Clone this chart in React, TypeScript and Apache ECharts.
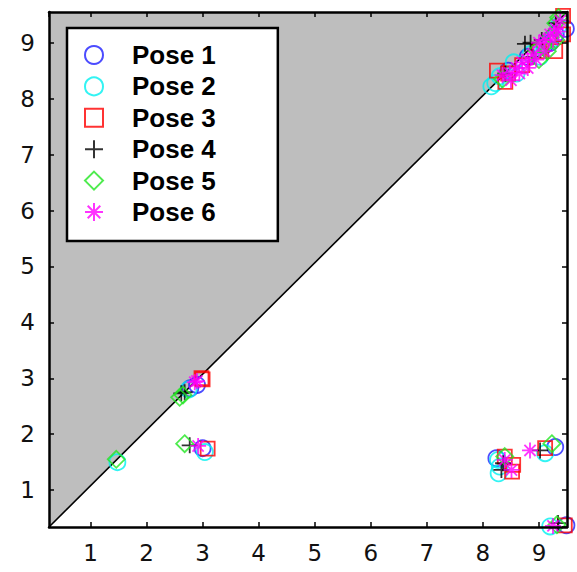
import React, { useEffect, useRef } from "react";
import * as echarts from "echarts";

const X_RANGE = [0.26, 9.5];
const Y_RANGE = [0.34, 9.55];
const diagonal = [
  [0.26, 0.34],
  [9.5, 9.55],
];

const poseNames = ["Pose 1", "Pose 2", "Pose 3", "Pose 4", "Pose 5", "Pose 6"];
const poseColors = ["#1f1fff", "#00f0f0", "#ff0000", "#000000", "#22e622", "#ff00ff"];

const pose1 = [
  [8.45, 8.5], [8.8, 8.75], [9.1, 8.95], [9.3, 9.15], [9.48, 9.25], [9.2, 9.0],
  [2.78, 2.82], [2.9, 2.88],
  [3.0, 1.75],
  [8.24, 1.57],
  [9.29, 1.77],
  [9.49, 0.37],
];
const pose2 = [
  [8.15, 8.22], [8.22, 8.28], [8.3, 8.4], [8.55, 8.65], [8.6, 8.45], [8.85, 8.8], [9.02, 8.75],
  [9.2, 9.05], [9.35, 9.3],
  [2.75, 2.8],
  [1.48, 1.5],
  [3.04, 1.68],
  [8.27, 1.54], [8.3, 1.42], [8.28, 1.3],
  [9.11, 1.66],
  [9.2, 0.35],
];
const pose3 = [
  [8.25, 8.5], [8.45, 8.45], [8.7, 8.6], [9.0, 8.85], [9.29, 8.85], [9.43, 9.15], [9.43, 9.48],
  [8.4, 8.3],
  [2.98, 3.0], [3.0, 2.98],
  [3.09, 1.74],
  [8.39, 1.6], [8.54, 1.45], [8.52, 1.33],
  [9.11, 1.75],
  [9.46, 0.37],
];
const pose4 = [
  [8.4, 8.45], [8.75, 8.98], [8.85, 9.0], [9.05, 9.05], [9.3, 9.35], [8.9, 8.75],
  [2.62, 2.73], [2.68, 2.75],
  [2.77, 1.8],
  [8.36, 1.48], [8.33, 1.36],
  [9.02, 1.71],
  [9.34, 0.41],
];
const pose5 = [
  [8.35, 8.35], [8.96, 8.86], [9.1, 8.95], [9.2, 9.1], [9.3, 9.35], [9.35, 9.45],
  [9.0, 8.7], [9.15, 8.85], [9.3, 9.05],
  [2.59, 2.66], [2.65, 2.7],
  [1.46, 1.55],
  [2.68, 1.83],
  [8.39, 1.6],
  [9.23, 1.83],
  [9.32, 0.38],
];
const pose6 = [
  [8.35, 8.42], [8.48, 8.46], [8.6, 8.55], [8.7, 8.65], [8.8, 8.7], [8.9, 8.8], [9.0, 9.0],
  [9.1, 9.05], [9.2, 9.15], [9.3, 9.25], [9.38, 9.4],
  [8.5, 8.33], [8.65, 8.45], [8.8, 8.55], [8.95, 8.7], [9.1, 8.85], [9.25, 9.05], [9.35, 9.2],
  [2.86, 2.93], [2.9, 2.95],
  [2.92, 1.79],
  [8.39, 1.54], [8.51, 1.36],
  [8.84, 1.71],
  [9.25, 0.36],
];
const poseData = [pose1, pose2, pose3, pose4, pose5, pose6];

const PLUS = "path://M0,5L10,5M5,0L5,10";
const STAR = "path://M5,0L5,10M0,5L10,5M1.5,1.5L8.5,8.5M1.5,8.5L8.5,1.5";
const poseSymbols = ["circle", "circle", "rect", PLUS, "diamond", STAR];
const poseSizes = [16, 16, 14, 16, 17, 16];

const FONT = "DejaVu Sans";

function makeAxis(position: string, range: number[], showLabels: boolean) {
  return {
    type: "value",
    position,
    min: range[0],
    max: range[1],
    splitNumber: 9,
    minInterval: 1,
    maxInterval: 1,
    z: 10,
    axisLine: { show: true, lineStyle: { color: "#000", width: 2.5 } },
    axisTick: { show: true, inside: true, length: 5, lineStyle: { color: "#000", width: 1.5 } },
    axisLabel: {
      show: showLabels,
      showMinLabel: false,
      showMaxLabel: false,
      margin: 14,
      fontSize: 23,
      color: "#111",
      fontFamily: FONT,
    },
    splitLine: { show: false },
  };
}

export default function App() {
  const ref = useRef<HTMLDivElement>(null);
  useEffect(() => {
    if (!ref.current) return;
    const chart = echarts.init(ref.current, null, { renderer: "svg" });
    const scatterSeries = poseNames.map((name, i) => ({
      name,
      type: "scatter",
      xAxisIndex: 0,
      yAxisIndex: 0,
      z: 3,
      symbol: poseSymbols[i],
      symbolSize: poseSizes[i],
      data: poseData[i],
      itemStyle: {
        color: "rgba(0,0,0,0)",
        borderColor: poseColors[i],
        borderWidth: 1.8,
      },
    }));
    chart.setOption({
      animation: false,
      backgroundColor: "#fff",
      grid: { left: 49, top: 12, width: 518, height: 515, containLabel: false },
      xAxis: [makeAxis("bottom", X_RANGE, true), makeAxis("top", X_RANGE, false)],
      yAxis: [makeAxis("left", Y_RANGE, true), makeAxis("right", Y_RANGE, false)],
      legend: {
        data: poseNames,
        orient: "vertical",
        left: 67,
        top: 28,
        padding: [14, 62, 16, 17],
        itemGap: 5.4,
        itemWidth: 18,
        itemHeight: 18,
        backgroundColor: "#fff",
        borderColor: "#000",
        borderWidth: 2.5,
        borderRadius: 0,
        selectedMode: false,
        textStyle: {
          fontFamily: "Liberation Sans",
          fontWeight: "bold",
          fontSize: 26,
          lineHeight: 26,
          color: "#000",
          padding: [0, 0, 0, 24],
        },
      },
      series: [
        {
          name: "diagonal",
          type: "line",
          xAxisIndex: 0,
          yAxisIndex: 0,
          z: 1,
          symbol: "none",
          data: diagonal,
          lineStyle: { color: "#000", width: 1.6 },
          areaStyle: { color: "#bebebe", opacity: 1, origin: "end" },
          silent: true,
        },
        ...scatterSeries,
      ],
    });
    return () => chart.dispose();
  }, []);
  return (
    <div
      ref={ref}
      style={{ position: "fixed", left: 0, top: 0, width: 577, height: 572 }}
    />
  );
}
